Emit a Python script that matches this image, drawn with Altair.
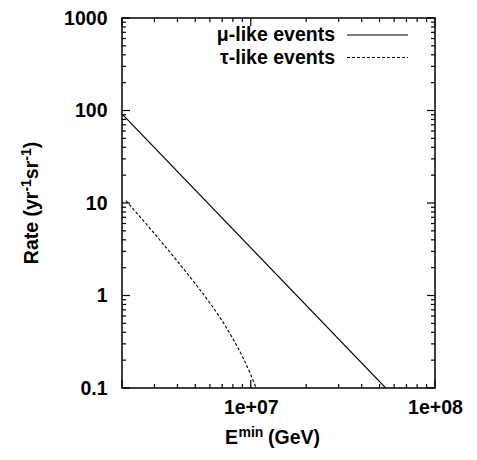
import altair as alt
import pandas as pd

# ---- data ----
mu_E = [2.0e6, 5.4e7]
mu_rate = [92.0, 0.1]

tau_E = [2.1e6, 3e6, 4e6, 5e6, 6e6, 7e6, 8e6, 9e6, 1.0e7, 1.07e7]
tau_rate = [10.6, 4.66, 2.34, 1.34, 0.83, 0.53, 0.34, 0.22, 0.139, 0.1]

x_domain = [2e6, 1e8]
y_domain = [0.1, 1000]

x_tick_values = [1e7, 1e8]
x_tick_labels = ["1e+07", "1e+08"]
y_tick_values = [0.1, 1, 10, 100, 1000]
y_tick_labels = ["0.1", "1", "10", "100", "1000"]

x_minor = [3e6, 4e6, 5e6, 6e6, 7e6, 8e6, 9e6, 2e7, 3e7, 4e7, 5e7, 6e7, 7e7, 8e7, 9e7]
x_major = [2e6, 1e7, 1e8]
y_minor = [m * d for d in [0.1, 1, 10, 100] for m in range(2, 10)]
y_major = [0.1, 1, 10, 100, 1000]

legend_labels = ["\u03bc-like events", "\u03c4-like events"]

# title pieces (normal text, superscript, ...)
x_title_parts = ["E", "min", "(GeV)"]
y_title_parts = ["Rate (yr", "-1", "sr", "-1", ")"]

FONT = "Liberation Sans"
FS = 19.5
FS_SUP = 14
W, H = 313, 370


def label_expr(values, labels):
    expr = "'%s'" % labels[-1]
    for i in range(len(values) - 2, -1, -1):
        mid = (values[i] * values[i + 1]) ** 0.5
        expr = "datum.value < %g ? '%s' : (%s)" % (mid, labels[i], expr)
    return expr


xs = alt.Scale(type="log", domain=x_domain)
ys = alt.Scale(type="log", domain=y_domain)

mu_df = pd.DataFrame({"E": mu_E, "R": mu_rate})
tau_df = pd.DataFrame({"E": tau_E, "R": tau_rate})

x_axis = alt.Axis(
    values=x_tick_values, labelExpr=label_expr(x_tick_values, x_tick_labels),
    grid=False, ticks=False, domain=False,
    labelFont=FONT, labelFontSize=FS, labelFontWeight="bold", labelColor="black",
    labelPadding=10, labelFlush=False, title=None,
)
y_axis = alt.Axis(
    values=y_tick_values, labelExpr=label_expr(y_tick_values, y_tick_labels),
    grid=False, ticks=False, domain=False,
    labelFont=FONT, labelFontSize=FS, labelFontWeight="bold", labelColor="black",
    labelPadding=15, labelFlush=False, title=None,
)

X = lambda f: alt.X(f, scale=xs, axis=x_axis)
Y = lambda f: alt.Y(f, scale=ys, axis=y_axis)

mu_line = alt.Chart(mu_df).mark_line(color="black", strokeWidth=1.1, clip=True).encode(
    x=X("E:Q"), y=Y("R:Q"),
)
tau_line = alt.Chart(tau_df).mark_line(
    color="black", strokeWidth=1.1, strokeDash=[3, 2], interpolate="monotone", clip=True
).encode(x=X("E:Q"), y=Y("R:Q"))


# inward ticks on all four sides
def xticks(vals, length):
    df = pd.DataFrame({"E": vals})
    bot = alt.Chart(df).mark_rule(color="black", strokeWidth=1.2).encode(
        x=X("E:Q"), y=alt.value(H), y2=alt.value(H - length))
    top = alt.Chart(df).mark_rule(color="black", strokeWidth=1.2).encode(
        x=X("E:Q"), y=alt.value(0), y2=alt.value(length))
    return [bot, top]


def yticks(vals, length):
    df = pd.DataFrame({"R": vals})
    left = alt.Chart(df).mark_rule(color="black", strokeWidth=1.2).encode(
        y=Y("R:Q"), x=alt.value(0), x2=alt.value(length))
    right = alt.Chart(df).mark_rule(color="black", strokeWidth=1.2).encode(
        y=Y("R:Q"), x=alt.value(W), x2=alt.value(W - length))
    return [left, right]


ticks = xticks(x_minor, 4) + xticks(x_major, 8) + yticks(y_minor, 4) + yticks(y_major, 8)

one = pd.DataFrame({"k": [0]})


def txt(s, x, y, size, angle=0):
    return alt.Chart(one).mark_text(
        text=s, align="left", baseline="alphabetic", font=FONT, fontSize=size,
        fontWeight="bold", color="black", angle=angle).encode(
        x=alt.value(x), y=alt.value(y))


# legend
leg = []
for i, lab in enumerate(legend_labels):
    yy = 17 + i * 22.5
    leg.append(alt.Chart(one).mark_text(
        text=lab, align="right", baseline="middle", font=FONT, fontSize=FS,
        fontWeight="bold", color="black").encode(x=alt.value(213), y=alt.value(yy)))
    leg.append(alt.Chart(one).mark_rule(
        color="black", strokeWidth=1.1,
        strokeDash=[1, 0] if i == 0 else [3, 2]).encode(
        x=alt.value(225), x2=alt.value(286), y=alt.value(yy)))

# x title: E^min (GeV)
xb = H + 56
titles = [
    txt(x_title_parts[0], 103, xb, FS),
    txt(x_title_parts[1], 116.5, xb - 7, FS_SUP),
    txt(x_title_parts[2], 146, xb, FS),
]
# y title, rotated, reading upward
yb = -84
widths = [72.6, 12.4, 18.4, 12.4, 6.5]
start = H / 2 + sum(widths) / 2
pos = start
for part, w, sup in zip(y_title_parts, widths, [False, True, False, True, False]):
    titles.append(txt(part, yb - 7 if sup else yb, pos, FS_SUP if sup else FS, angle=270))
    pos -= w

chart = alt.layer(mu_line, tau_line, *ticks, *leg, *titles).properties(
    width=W, height=H,
    autosize=alt.AutoSizeParams(type="none"),
    padding={"left": 114, "top": 10, "right": 30, "bottom": 64},
).configure_view(stroke="black", strokeWidth=1.5)

chart.save("out.html", embed_options={"renderer": "svg", "actions": False})
